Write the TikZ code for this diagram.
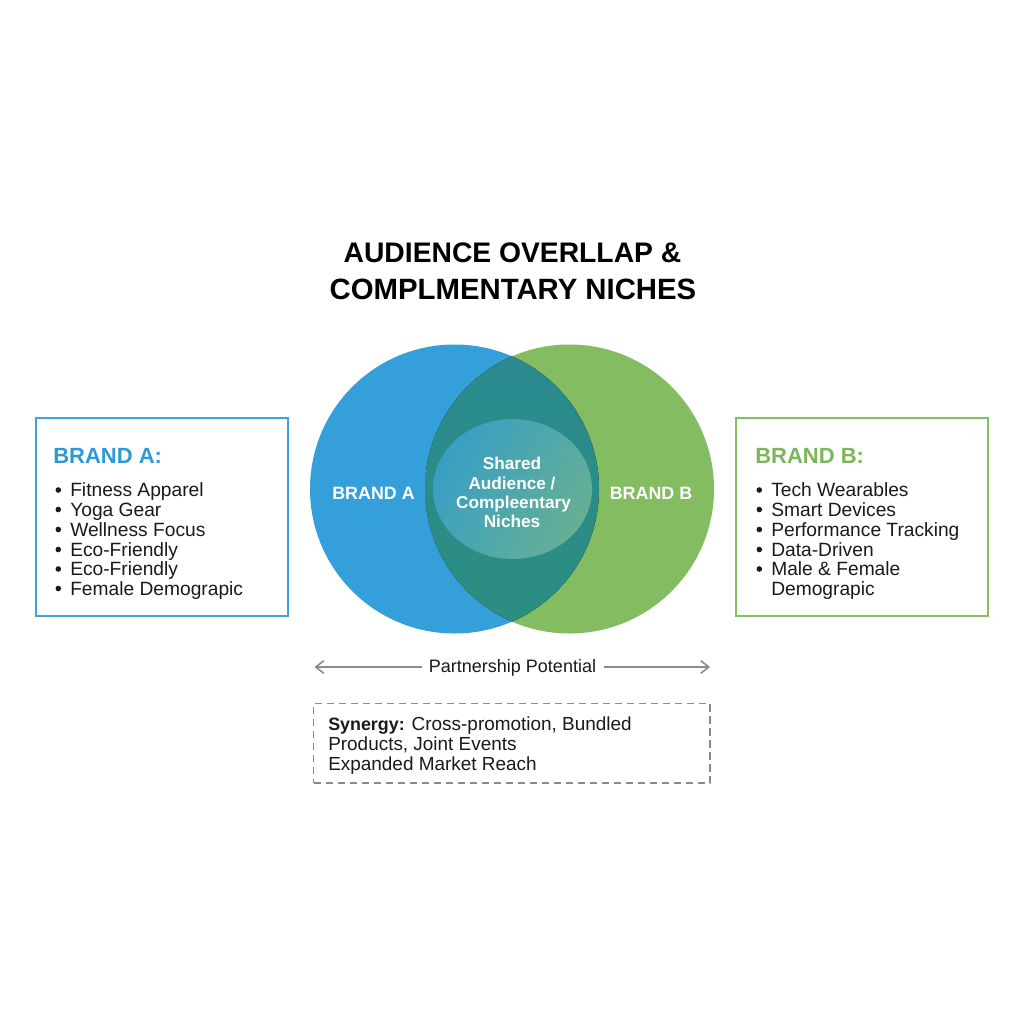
\documentclass[tikz,border=0pt]{standalone}
\usepackage{fontspec}
\setmainfont{Liberation Sans}
\usetikzlibrary{arrows.meta,shadings}
\definecolor{blueA}{HTML}{349FD8}
\definecolor{greenB}{HTML}{84BC62}
\definecolor{lensTop}{HTML}{2A8A90}
\definecolor{lensBot}{HTML}{2C8E80}
\definecolor{innerA}{HTML}{389FC4}
\definecolor{innerB}{HTML}{66AF94}
\definecolor{boxBlue}{HTML}{3FA4DA}
\definecolor{boxGreen}{HTML}{86BE64}
\definecolor{titleBlue}{HTML}{2E9AD3}
\definecolor{titleGreen}{HTML}{7DB65A}
\definecolor{ink}{HTML}{1A1A1A}
\definecolor{arrowGrey}{HTML}{8C8C8C}
\definecolor{dashGrey}{HTML}{8A8A8A}
\tikzset{
  x=0.75pt,y=-0.75pt,
  venn/.style={circle,minimum size=216.75pt,inner sep=0pt,outer sep=0pt},
  brandbox/.style={draw,line width=1.5pt,minimum width=189.2pt,minimum height=148.5pt,inner sep=0pt,outer sep=0pt,anchor=north west},
  headtxt/.style={font=\fontsize{16.5}{18}\selectfont\bfseries,anchor=base west,inner sep=0pt},
  item/.style={font=\fontsize{14.4}{16}\selectfont,text=ink,anchor=base west,inner sep=0pt},
  syntxt/.style={font=\fontsize{14.2}{16}\selectfont,text=ink,anchor=base west,inner sep=0pt},
  bulletdot/.style={circle,fill=ink,inner sep=0pt,minimum size=4.2pt},
  venntxt/.style={font=\fontsize{12.9}{14.6}\selectfont\bfseries,text=white,anchor=base,inner sep=0pt},
  titletxt/.style={text=black,anchor=base,inner sep=0pt},
  potarrow/.style={draw=arrowGrey,line width=1.2pt,-{Straight Barb[length=6pt,width=9.5pt]}},
}
\begin{document}
\begin{tikzpicture}
\useasboundingbox[fill=white] (0,0) rectangle (1024,1024);
% title
\node[titletxt,font=\fontsize{21.2}{24}\selectfont\bfseries] (t1) at (512.5,262) {AUDIENCE OVERLLAP \&};
\node[titletxt,font=\fontsize{22}{24}\selectfont\bfseries] (t2) at (513,299) {COMPLMENTARY NICHES};
% venn
\node[venn,fill=blueA] (circA) at (454.5,489) {};
\node[venn,fill=greenB] (circB) at (569.5,489) {};
\begin{scope}
  \clip (454.5,489) circle[radius=144.5];
  \clip (569.5,489) circle[radius=144.5];
  \fill[top color=lensTop,bottom color=lensBot] (425,344) rectangle (714,634);
\end{scope}
\shade[left color=innerA,right color=innerB,shading angle=60] (512.5,489) ellipse[x radius=79.5,y radius=70];
\node[venntxt,font=\fontsize{13.4}{15}\selectfont\bfseries] (la) at (373.5,499) {BRAND A};
\node[venntxt,font=\fontsize{13.4}{15}\selectfont\bfseries] (lb) at (651,499) {BRAND B};
\node[venntxt] (s1) at (512,469) {Shared};
\node[venntxt] (s2) at (512,489) {Audience /};
\node[venntxt] (s3) at (513.5,508) {Compleentary};
\node[venntxt] (s4) at (512,527) {Niches};
% Brand A box
\node[brandbox,draw=boxBlue] (boxA) at (36,417.5) {};
\node[headtxt,text=titleBlue] (ha) at (53,463) {BRAND A:};
\foreach \n/\y/\t in {1/496.5/Fitness Apparel,2/516/Yoga Gear,3/536/Wellness Focus,4/556/Eco-Friendly,5/575.5/Eco-Friendly,6/595/Female Demograpic}{
  \node[item] (a\n) at (70,\y) {\t};
  \node[bulletdot] (ad\n) at (58.3,\y-6.5) {};
}
% Brand B box
\node[brandbox,draw=boxGreen] (boxB) at (735.5,417.5) {};
\node[headtxt,text=titleGreen] (hb) at (755,463) {BRAND B:};
\foreach \n/\y/\t in {1/496.5/Tech Wearables,2/516/Smart Devices,3/536/Performance Tracking,4/556/Data-Driven,5/575.5/Male \& Female}{
  \node[item] (b\n) at (771,\y) {\t};
  \node[bulletdot] (bd\n) at (759.3,\y-6.5) {};
}
\node[item] (b6) at (771,595) {Demograpic};
% partnership
\node[font=\fontsize{13.5}{15}\selectfont,text=ink,inner sep=0pt] (pp) at (512.5,668) {Partnership Potential};
\coordinate (ppL) at (314.5,667);
\coordinate (ppR) at (710,667);
\coordinate (ppLs) at (422,667);
\coordinate (ppRs) at (604,667);
\draw[potarrow] (ppLs) -- (ppL);
\draw[potarrow] (ppRs) -- (ppR);
% synergy
\node[draw=dashGrey,line width=1.1pt,dash pattern=on 5.5pt off 3.5pt,minimum width=297.4pt,minimum height=59.6pt,inner sep=0pt,outer sep=0pt,anchor=north west] (syn) at (313.5,703.5) {};
\node[syntxt] (y1) at (328,730) {{\fontsize{13.4}{16}\selectfont\bfseries Synergy:} Cross-promotion, Bundled};
\node[syntxt] (y2) at (328,750) {Products, Joint Events};
\node[syntxt] (y3) at (328,770) {Expanded Market Reach};
\end{tikzpicture}
\end{document}
